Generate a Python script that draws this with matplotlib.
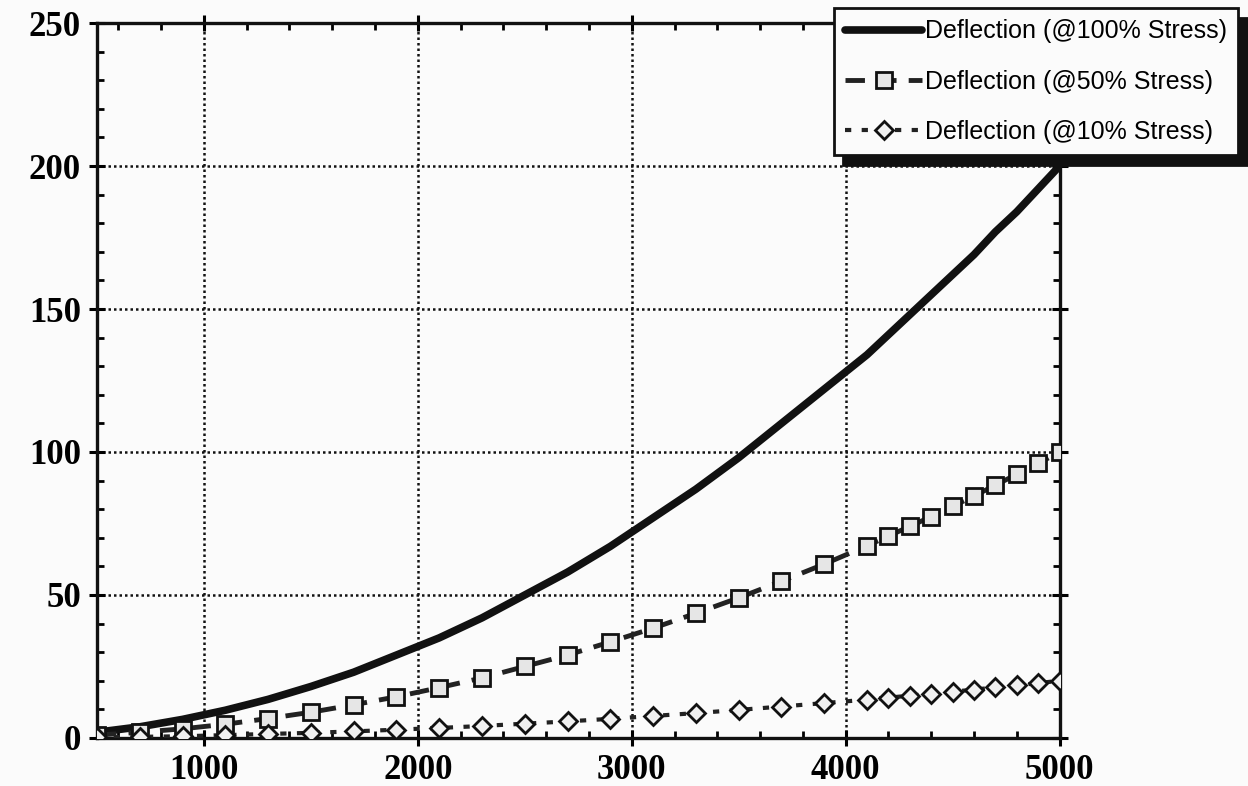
import numpy as np
import matplotlib
matplotlib.use("Agg")
import matplotlib.pyplot as plt
from matplotlib.ticker import MultipleLocator

# load (x) values, sampled every 200 up to 4100 then every 100
load = [500, 700, 900, 1100, 1300, 1500, 1700, 1900, 2100, 2300, 2500, 2700, 2900,
        3100, 3300, 3500, 3700, 3900, 4100, 4200, 4300, 4400, 4500, 4600, 4700,
        4800, 4900, 5000]

defl_100 = [2, 3.9, 6.5, 9.7, 13.5, 18, 23, 29, 35, 42, 50, 58, 67, 77, 87, 98,
            110, 122, 134, 141, 148, 155, 162, 169, 177, 184, 192, 200]
defl_50 = [1, 2, 3.2, 4.8, 6.8, 9, 11.6, 14.4, 17.6, 21, 25, 29, 33.6, 38.4, 43.6,
           49, 54.8, 60.8, 67.2, 70.6, 74, 77.4, 81, 84.6, 88.4, 92.2, 96, 100]
defl_10 = [0.2, 0.4, 0.6, 1, 1.4, 1.8, 2.3, 2.9, 3.5, 4.2, 5, 5.8, 6.7, 7.7, 8.7,
           9.8, 11, 12.2, 13.4, 14.1, 14.8, 15.5, 16.2, 16.9, 17.7, 18.4, 19.2, 20]

labels = ["Deflection (@100% Stress)", "Deflection (@50% Stress)", "Deflection (@10% Stress)"]

fig = plt.figure(figsize=(12.48, 7.86), dpi=100, facecolor="#fbfbfb")
ax = fig.add_axes([0.0777, 0.0611, 0.849 - 0.0777, 0.9707 - 0.0611])
ax.set_facecolor("#fbfbfb")

ax.plot(load, defl_100, color="#111111", lw=5.5, solid_capstyle="round", label=labels[0], zorder=4)
ax.plot(load, defl_50, color="#222222", lw=3.5, linestyle=(0, (4, 2.5)),
        marker="s", markersize=11, markerfacecolor="#e6e6e6", markeredgecolor="#111111",
        markeredgewidth=2, label=labels[1], zorder=4)
ax.plot(load, defl_10, color="#222222", lw=3, linestyle=(0, (1.5, 2.5)),
        marker="D", markersize=9, markerfacecolor="#f0f0f0", markeredgecolor="#111111",
        markeredgewidth=2, label=labels[2], zorder=4)

ax.set_xlim(500, 5000)
ax.set_ylim(0, 250)

# ticks: major cross the spine, minor point inward, on all sides
ax.xaxis.set_major_locator(MultipleLocator(1000))
ax.xaxis.set_minor_locator(MultipleLocator(200))
ax.yaxis.set_major_locator(MultipleLocator(50))
ax.yaxis.set_minor_locator(MultipleLocator(10))
ax.tick_params(which="major", direction="inout", length=11, width=2.2,
               top=True, right=True, labelsize=25, pad=6)
ax.tick_params(which="minor", direction="in", length=5, width=2, top=True, right=True)
for lab in ax.get_xticklabels() + ax.get_yticklabels():
    lab.set_fontfamily("Liberation Serif")
    lab.set_fontweight("bold")

for sp in ax.spines.values():
    sp.set_linewidth(2.4)
    sp.set_color("#111111")

ax.grid(True, which="major", color="#111111", linestyle=(0, (1, 1.2)), linewidth=1.8)
ax.set_axisbelow(True)

leg = ax.legend(loc="upper right", bbox_to_anchor=(1238 / 1248, 1 - 8 / 786),
                bbox_transform=fig.transFigure, borderaxespad=0, fancybox=False,
                framealpha=1, edgecolor="#111111", facecolor="#fbfbfb", handlelength=3.1,
                handletextpad=0.1, labelspacing=1.05, borderpad=0.45,
                prop={"family": "Liberation Sans", "size": 18},
                shadow={"ox": 7, "oy": -7, "color": "#111111", "alpha": 1})
leg.get_frame().set_linewidth(2)
leg.set_zorder(10)

fig.savefig("out.png", dpi=100, facecolor=fig.get_facecolor())
